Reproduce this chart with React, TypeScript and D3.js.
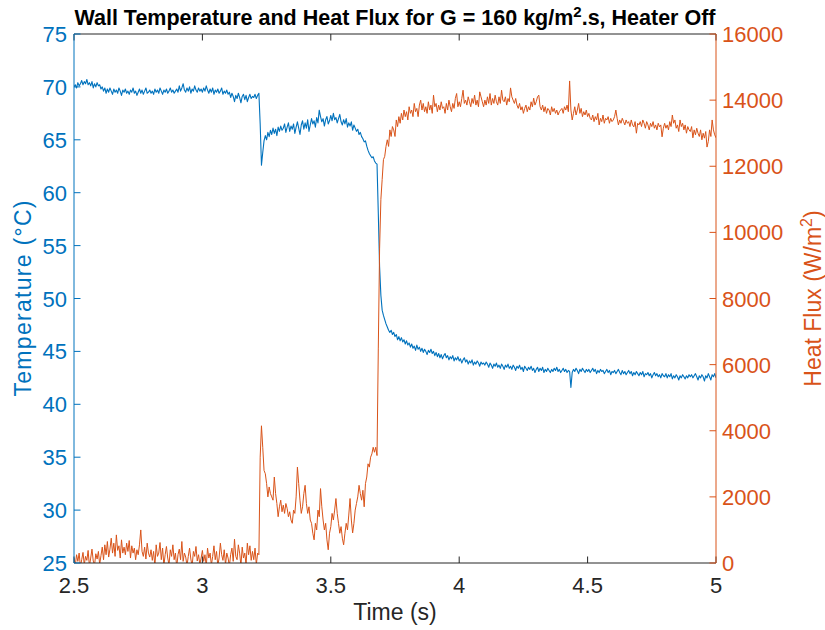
import React from 'react';
import * as d3 from 'd3';

const timeStart = 2.5;
const timeStep = 0.005;

// Wall temperature (°C), one row per 0.1 s (sampled every 0.005 s), 2.50 s .. 5.00 s
const temperature = [
  70.0, 70.2, 69.9, 70.4, 70.1, 70.3, 70.6, 70.2, 70.5, 70.3, 70.7, 70.2, 70.4, 70.1, 70.5, 69.9, 70.3, 70.0, 70.4, 70.1,
  70.2, 69.8, 70.0, 69.6, 69.9, 69.4, 69.8, 69.5, 69.9, 69.6, 69.3, 69.8, 69.5, 69.7, 69.4, 69.9, 69.6, 69.2, 69.7, 69.5,
  69.8, 69.4, 69.6, 69.3, 69.7, 69.5, 69.9, 69.4, 69.6, 69.2, 69.5, 69.8, 69.4, 69.7, 69.3, 69.6, 69.9, 69.4, 69.5, 69.7,
  69.4, 69.6, 69.3, 69.8, 69.5, 69.7, 69.4, 69.9, 69.6, 69.3, 69.7, 69.5, 69.8, 69.4, 69.6, 69.9, 69.5, 69.7, 69.4, 69.6,
  69.8, 69.5, 70.1, 69.6, 69.9, 70.3, 69.7, 69.5, 69.9, 69.6, 70.0, 69.4, 69.8, 69.6, 70.1, 69.7, 69.5, 69.9, 69.6, 69.8,
  69.5, 69.9, 69.6, 70.1, 69.7, 69.4, 69.8, 69.5, 69.9, 69.3, 69.7, 69.5, 69.8, 69.4, 69.6, 69.9, 69.3, 69.6, 69.4, 69.7,
  69.3, 69.5, 69.0, 69.4, 69.1, 68.6, 69.2, 68.9, 69.4, 69.0, 68.5, 69.1, 69.3, 68.8, 69.2, 68.6, 69.0, 69.3, 68.9, 69.1,
  69.0, 69.3, 68.9, 69.2, 69.4, 66.5, 62.6, 63.8, 64.9, 65.4, 65.0, 65.7, 65.3, 65.9, 65.5, 66.1, 65.6, 66.0, 65.4, 66.2,
  65.8, 66.3, 65.9, 66.1, 66.5, 65.7, 66.2, 66.6, 65.8, 66.3, 66.0, 66.5, 65.6, 66.2, 66.7, 66.1, 65.5, 66.4, 66.8, 66.0,
  66.6, 66.1, 66.9, 65.8, 66.4, 67.0, 66.5, 66.8, 66.2, 67.1, 66.6, 67.8, 67.2, 66.7, 67.0, 66.3, 66.9, 67.2, 66.5, 66.8,
  67.3, 66.8, 67.5, 66.9, 67.1, 66.6, 67.0, 67.4, 66.7, 66.4, 66.9, 66.5, 67.0, 66.2, 66.6, 66.3, 66.7, 65.9, 66.4, 66.1,
  65.8, 66.0, 65.5, 65.7, 65.3, 65.1, 64.8, 64.9, 64.4, 64.0, 63.7, 63.5, 63.3, 63.4, 63.0, 62.8, 62.7, 58.0, 53.0, 50.3,
  48.9, 48.4, 48.0, 47.6, 47.3, 47.0, 46.8, 47.0, 46.6, 46.8, 46.4, 46.6, 46.1, 46.4, 46.0, 46.3, 45.9, 46.1, 45.7, 46.0,
  45.6, 45.8, 45.4, 45.7, 45.3, 45.5, 45.1, 45.6, 45.2, 45.4, 45.0, 45.3, 44.9, 45.2, 45.0, 44.7, 45.1, 44.9, 45.2, 44.8,
  45.0, 44.6, 44.9, 44.5, 44.8, 44.4, 44.7, 44.3, 44.6, 44.8, 44.4, 44.6, 44.2, 44.5, 44.3, 44.6, 44.1, 44.4, 44.2, 44.5,
  44.1, 44.3, 43.9, 44.2, 44.4, 44.0, 44.2, 43.8, 44.1, 43.9, 44.2, 43.7, 44.0, 43.8, 44.1, 43.9, 43.6, 44.0, 43.8, 43.9,
  43.7, 44.0, 43.8, 43.5, 43.9, 43.7, 43.4, 43.8, 43.6, 43.9, 43.5, 43.7, 43.4, 43.8, 43.6, 43.3, 43.7, 43.5, 43.8, 43.4,
  43.6, 43.3, 43.7, 43.5, 43.2, 43.6, 43.4, 43.7, 43.3, 43.5, 43.1, 43.6, 43.4, 43.2, 43.5, 43.3, 43.6, 43.2, 43.4, 43.0,
  43.3, 43.5, 43.1, 43.4, 43.2, 43.5, 43.0, 43.3, 43.1, 43.4, 43.2, 43.0, 43.3, 43.1, 43.4, 43.2, 43.5, 43.1, 43.3, 43.0,
  43.2, 43.4, 43.1, 43.3, 43.0, 43.2, 43.1, 41.6, 43.0, 43.3, 43.1, 43.4, 43.2, 42.9, 43.3, 43.1, 43.4, 43.2, 43.0, 43.3,
  43.1, 43.3, 43.0, 43.2, 43.4, 43.1, 43.3, 42.9, 43.2, 43.0, 43.3, 43.1, 43.2, 42.9, 43.1, 43.3, 43.0, 43.2, 42.8, 43.1,
  43.0, 43.2, 42.9, 43.1, 43.3, 43.0, 42.8, 43.2, 42.9, 43.1, 42.8, 43.0, 43.2, 42.9, 43.1, 42.7, 43.0, 42.8, 43.1, 42.9,
  42.7, 43.0, 42.8, 43.1, 42.6, 42.9, 42.8, 43.0, 42.7, 42.9, 42.5, 42.8, 43.0, 42.7, 42.9, 42.6, 42.8, 42.5, 42.9, 42.7,
  42.6, 42.9, 42.5, 42.8, 42.6, 42.9, 42.4, 42.7, 42.5, 42.8, 42.6, 42.3, 42.7, 42.5, 42.8, 42.6, 42.4, 42.7, 42.5, 42.8,
  42.6, 42.8, 42.5, 42.7, 42.9, 42.6, 42.3, 42.7, 42.5, 42.8, 42.6, 42.2, 42.7, 42.5, 42.9, 42.6, 42.3, 42.8, 42.6, 42.9,
  42.5,
];

// Heat flux (W/m²), same time base
const heatFlux = [
  150, -80, 250, 50, 300, -120, 100, 320, -50, 200, 80, 380, -100, 150, 420, 60, -60, 280, 120, 350,
  -40, 220, 480, 100, 550, 250, 650, 180, 420, 750, 300, 600, 200, 850, 380, 520, 150, 700, 300, 480,
  250, 600, 350, 680, 150, 520, 300, 450, 100, 400, 250, 550, 1000, 350, 200, 480, 120, 600, 300, 180,
  400, 80, 350, -100, 550, 200, 300, 620, 100, 450, -80, 250, 500, 150, -50, 400, 200, 550, 100, 300,
  -120, 250, 420, 100, 650, 50, 300, 180, -80, 200, 450, 120, -100, 350, 200, 500, 60, 250, -40, 150,
  380, 50, 250, -100, 450, 150, 300, -60, 200, 520, 100, 350, -80, 150, 600, 250, 80, 400, -50, 300,
  150, -100, 250, 450, 50, 720, 200, 100, 550, 300, -80, 480, 150, 300, -60, 600, 250, 520, 80, 350,
  100, 450, -50, 300, 250, 3200, 4150, 3500, 2800, 2700, 2400, 2000, 2300, 2100, 2000, 1900, 2600, 2100, 1800, 1400,
  1700, 1900, 1550, 1750, 1500, 1800, 1650, 1400, 1550, 1300, 1200, 1600, 1500, 2000, 2900, 2400, 1900, 1500, 1700, 2100,
  2350, 1800, 1500, 1700, 1300, 1200, 900, 700, 1200, 1000, 1600, 1400, 2250, 1700, 1300, 1000, 1200, 700, 400, 900,
  1100, 1500, 1300, 1600, 1950, 1500, 1200, 900, 1100, 750, 550, 900, 1200, 1000, 1450, 1950, 1300, 910, 1200, 1600,
  1800, 2000, 2350, 2100, 1900, 2200, 1700, 2400, 2600, 3000, 2900, 3200, 3300, 3500, 3350, 3500, 3250, 6500, 9500, 11000,
  11600, 12200, 12300, 12600, 12800, 12600, 13100, 12900, 13200, 13100, 12900, 13400, 13200, 13500, 13300, 13600, 13400, 13700, 13500, 13650,
  13400, 13800, 13600, 13700, 13500, 13900, 13650, 13750, 13500, 13850, 14000, 13700, 13900, 13650, 13800, 13600, 13950, 13700, 13850, 13600,
  14150, 13800, 13900, 13650, 13850, 13700, 13950, 13750, 13800, 13600, 13900, 13700, 14000, 13800, 13650, 13900, 13750, 14050, 14200, 13800,
  13950, 13800, 14050, 14300, 13900, 14000, 13850, 14100, 13950, 13800, 14050, 13900, 14150, 13850, 14000, 13800, 14250, 14100, 13950, 13800,
  14000, 13850, 14100, 13900, 14200, 13850, 14050, 13900, 14150, 13950, 13850, 14100, 13900, 14300, 14000, 13950, 14100, 13850, 14050, 13950,
  14370, 14100, 14000, 13900, 14050, 13850, 13750, 13900, 13700, 13800, 13600, 13750, 13850, 13650, 13800, 13700, 13950, 13800, 14060, 13850,
  13950, 14100, 14150, 13800, 13700, 13850, 13650, 13800, 13600, 13750, 13700, 13550, 13800, 13650, 13750, 13600, 13700, 13550, 13650, 13700,
  13750, 13600, 13800, 13700, 13850, 13650, 14580, 13700, 13400, 13600, 13800, 13550, 13700, 13900, 13600, 13750, 13500, 13650, 13550, 13700,
  13500, 13600, 13450, 13400, 13550, 13350, 13500, 13400, 13600, 13250, 13450, 13350, 13550, 13300, 13450, 13400, 13500, 13300, 13450, 13350,
  13400, 13500, 13700, 13450, 13250, 13400, 13300, 13450, 13350, 13250, 13400, 13300, 13350, 13200, 13400, 13250, 13190, 13350, 13000, 13300,
  13250, 13350, 13200, 13400, 13300, 13150, 13350, 13250, 13100, 13300, 13200, 13350, 13150, 13250, 13100, 13300, 13190, 13250, 12890, 13150,
  13300, 13150, 13250, 13100, 13350, 13200, 13550, 13300, 13400, 13150, 13250, 13050, 13400, 13200, 13300, 13100, 13250, 13000, 13200, 13100,
  13050, 13200, 12860, 13100, 12950, 13150, 13000, 12900, 13100, 12800, 13000, 12850, 13050, 12580, 12750, 13100, 12900, 13400, 13100, 12950,
  12860,
];

const xTicks = [2.5, 3, 3.5, 4, 4.5, 5];
const tempTicks = [25, 30, 35, 40, 45, 50, 55, 60, 65, 70, 75];
const fluxTicks = [0, 2000, 4000, 6000, 8000, 10000, 12000, 14000, 16000];

const BLUE = '#0072BD';
const ORANGE = '#D95319';
const DARK = '#262626';
const FONT = '"Liberation Sans", Arial, Helvetica, sans-serif';

export default function App() {
  const left = 74, right = 716, top = 34, bottom = 563;
  const x = d3.scaleLinear().domain([2.5, 5]).range([left, right]);
  const yT = d3.scaleLinear().domain([25, 75]).range([bottom, top]);
  const yQ = d3.scaleLinear().domain([0, 16000]).range([bottom, top]);
  const times = temperature.map((_, i) => timeStart + i * timeStep);

  const lineT = d3.line<number>().x((_, i) => x(times[i])).y((d) => yT(d));
  const lineQ = d3.line<number>().x((_, i) => x(times[i])).y((d) => yQ(d));
  const tick = 6.5;
  const midY = (top + bottom) / 2;

  return (
    <svg width={825} height={630} style={{ position: 'absolute', left: 0, top: 0, background: '#fff' }} fontFamily={FONT}>
      <defs>
        <clipPath id="plot">
          <rect x={left} y={top} width={right - left} height={bottom - top} />
        </clipPath>
      </defs>
      <rect x={0} y={0} width={825} height={630} fill="#fff" />
      <g clipPath="url(#plot)" fill="none" strokeLinejoin="round">
        <path d={lineT(temperature) || ''} stroke={BLUE} strokeWidth={1.1} />
        <path d={lineQ(heatFlux) || ''} stroke={ORANGE} strokeWidth={1} />
      </g>
      <line x1={left} x2={right} y1={top} y2={top} stroke={DARK} strokeWidth={1} />
      <line x1={left} x2={right} y1={bottom} y2={bottom} stroke={DARK} strokeWidth={1} />
      {xTicks.map((t) => (
        <g key={'x' + t}>
          <line x1={x(t)} x2={x(t)} y1={bottom} y2={bottom - tick} stroke={DARK} />
          <line x1={x(t)} x2={x(t)} y1={top} y2={top + tick} stroke={DARK} />
          <text x={x(t)} y={593} textAnchor="middle" fontSize={22} fill={DARK}>{t}</text>
        </g>
      ))}
      <line x1={left} x2={left} y1={top} y2={bottom} stroke={BLUE} strokeWidth={1} />
      {tempTicks.map((t) => (
        <g key={'t' + t}>
          <line x1={left} x2={left + tick} y1={yT(t)} y2={yT(t)} stroke={BLUE} />
          <text x={67} y={yT(t) + 8} textAnchor="end" fontSize={22} fill={BLUE}>{t}</text>
        </g>
      ))}
      <line x1={right} x2={right} y1={top} y2={bottom} stroke={ORANGE} strokeWidth={1} />
      {fluxTicks.map((q) => (
        <g key={'q' + q}>
          <line x1={right} x2={right - tick} y1={yQ(q)} y2={yQ(q)} stroke={ORANGE} />
          <text x={722} y={yQ(q) + 8} textAnchor="start" fontSize={22} fill={ORANGE}>{q}</text>
        </g>
      ))}
      <text x={395} y={25} textAnchor="middle" fontSize={21.5} fontWeight="bold" fill="#000">
        Wall Temperature and Heat Flux for G = 160 kg/m<tspan dy={-8} fontSize={15}>2</tspan><tspan dy={8}>.s, Heater Off</tspan>
      </text>
      <text x={395} y={620} textAnchor="middle" fontSize={23} fill={DARK}>Time (s)</text>
      <text transform={`translate(31, ${midY}) rotate(-90)`} textAnchor="middle" fontSize={23} fill={BLUE}
        textLength={196} lengthAdjust="spacing">Temperature (°C)</text>
      <text transform={`translate(821, ${midY}) rotate(-90)`} textAnchor="middle" fontSize={23} fill={ORANGE}>
        Heat Flux (W/m<tspan dy={-9} fontSize={16}>2</tspan><tspan dy={9}>)</tspan>
      </text>
    </svg>
  );
}
